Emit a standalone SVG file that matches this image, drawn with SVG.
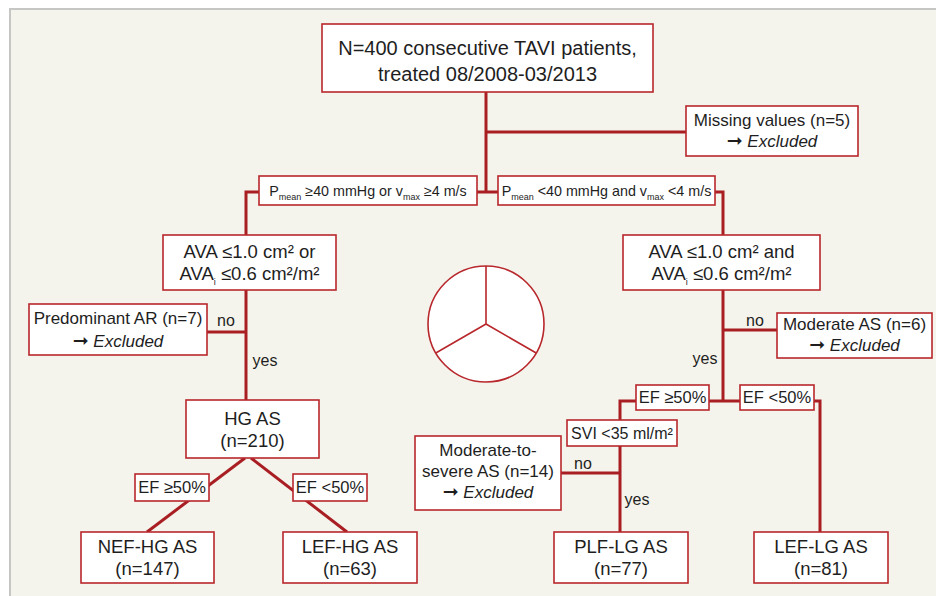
<svg xmlns="http://www.w3.org/2000/svg" width="936" height="596" viewBox="0 0 936 596">
<style>
.bx{fill:#ffffff;stroke:#b8272c;stroke-width:1.6}
.cn{fill:none;stroke:#a81e23;stroke-width:3}
text{font-family:"Liberation Sans",Arial,sans-serif;fill:#1e1e1e;text-anchor:middle}
.t20{font-size:20px}
.t19{font-size:18.5px}
.t17{font-size:17px}
.t16{font-size:16.5px}
.t15{font-size:16px}
.tl{font-size:14.3px}
.sub{font-size:9px}
.it{font-style:italic}
.ar{font-family:"DejaVu Sans",sans-serif;font-style:normal;font-size:19px}
</style>
<rect x="10" y="9" width="940" height="600" fill="#f5f4ec" stroke="#c6c6c4" stroke-width="2"/>

<g id="connectors">
<polyline class="cn" points="486,92 486,192"/>
<polyline class="cn" points="486,132 686,132"/>
<polyline class="cn" points="246,235 246,192 723,192 723,235"/>
<polyline class="cn" points="246,290 246,400"/>
<polyline class="cn" points="207,332 246,332"/>
<polyline class="cn" points="245,458 147,532"/>
<polyline class="cn" points="251,458 347,532"/>
<polyline class="cn" points="723,290 723,401"/>
<polyline class="cn" points="723,330 777,330"/>
<polyline class="cn" points="620,532 620,401 820,401 820,532"/>
<polyline class="cn" points="561,473 620,473"/>
</g>

<g id="circle">
<circle cx="486" cy="324" r="58" fill="#ffffff" stroke="#b8272c" stroke-width="1.6"/>
<path d="M486,324 V266 M486,324 L435.8,353 M486,324 L536.2,353" fill="none" stroke="#b8272c" stroke-width="1.6"/>
</g>

<g id="n-top">
<rect class="bx" x="322" y="24" width="331" height="68"/>
<text class="t20" x="487.5" y="55">N=400 consecutive TAVI patients,</text>
<text class="t20" x="487.5" y="81">treated 08/2008-03/2013</text>
</g>

<g id="n-missing">
<rect class="bx" x="686" y="106" width="172" height="50"/>
<text class="t17" x="772" y="126">Missing values (n=5)</text>
<text class="t17" x="772" y="147"><tspan class="ar">➞</tspan> <tspan class="it">Excluded</tspan></text>
</g>

<g id="l-high">
<rect class="bx" x="259" y="176" width="218" height="29"/>
<text class="tl" x="368" y="196">P<tspan class="sub" dy="4">mean</tspan><tspan dy="-4"> ≥40 mmHg or v</tspan><tspan class="sub" dy="4">max</tspan><tspan dy="-4"> ≥4 m/s</tspan></text>
</g>

<g id="l-low">
<rect class="bx" x="498" y="176" width="217" height="29"/>
<text class="tl" x="606.5" y="196">P<tspan class="sub" dy="4">mean</tspan><tspan dy="-4"> &lt;40 mmHg and v</tspan><tspan class="sub" dy="4">max</tspan><tspan dy="-4"> &lt;4 m/s</tspan></text>
</g>

<g id="n-ava-left">
<rect class="bx" x="163" y="235" width="173" height="55"/>
<text class="t19" x="249.5" y="258">AVA ≤1.0 cm² or</text>
<text class="t19" x="249.5" y="280">AVA<tspan class="sub" dy="5">i</tspan><tspan dy="-5"> ≤0.6 cm²/m²</tspan></text>
</g>

<g id="n-ava-right">
<rect class="bx" x="623" y="235" width="197" height="55"/>
<text class="t19" x="721.5" y="258">AVA ≤1.0 cm² and</text>
<text class="t19" x="721.5" y="280">AVA<tspan class="sub" dy="5">i</tspan><tspan dy="-5"> ≤0.6 cm²/m²</tspan></text>
</g>

<g id="n-predominant">
<rect class="bx" x="29" y="304" width="178" height="51"/>
<text class="t17" x="118" y="324">Predominant AR (n=7)</text>
<text class="t17" x="118" y="347"><tspan class="ar">➞</tspan> <tspan class="it">Excluded</tspan></text>
</g>
<text class="t15" x="226" y="326">no</text>
<text class="t15" x="265" y="366">yes</text>

<g id="n-moderate">
<rect class="bx" x="777" y="313" width="155" height="45"/>
<text class="t17" x="854.5" y="330">Moderate AS (n=6)</text>
<text class="t17" x="854.5" y="351"><tspan class="ar">➞</tspan> <tspan class="it">Excluded</tspan></text>
</g>
<text class="t15" x="755" y="326">no</text>
<text class="t15" x="705" y="364">yes</text>

<g id="n-hgas">
<rect class="bx" x="186" y="400" width="133" height="58"/>
<text class="t19" x="252.5" y="425">HG AS</text>
<text class="t19" x="252.5" y="447">(n=210)</text>
</g>

<g id="l-ef-hg-ge">
<rect class="bx" x="135" y="474" width="74" height="27"/>
<text class="t16" x="172" y="493">EF ≥50%</text>
</g>
<g id="l-ef-hg-lt">
<rect class="bx" x="293" y="474" width="74" height="27"/>
<text class="t16" x="330" y="493">EF &lt;50%</text>
</g>

<g id="l-ef-ge">
<rect class="bx" x="636" y="385" width="73" height="25"/>
<text class="t16" x="672.5" y="403">EF ≥50%</text>
</g>
<g id="l-ef-lt">
<rect class="bx" x="740" y="385" width="74" height="25"/>
<text class="t16" x="777" y="403">EF &lt;50%</text>
</g>

<g id="l-svi">
<rect class="bx" x="567" y="420" width="110" height="26"/>
<text class="t15" x="622" y="439">SVI &lt;35 ml/m²</text>
</g>

<g id="n-modsev">
<rect class="bx" x="415" y="436" width="146" height="74"/>
<text class="t17" x="488" y="456">Moderate-to-</text>
<text class="t17" x="488" y="477">severe AS (n=14)</text>
<text class="t17" x="488" y="498"><tspan class="ar">➞</tspan> <tspan class="it">Excluded</tspan></text>
</g>
<text class="t15" x="583" y="469">no</text>
<text class="t15" x="637" y="505">yes</text>

<g id="n-nef-hg">
<rect class="bx" x="81" y="532" width="133" height="51"/>
<text class="t19" x="147.5" y="553">NEF-HG AS</text>
<text class="t19" x="147.5" y="575">(n=147)</text>
</g>
<g id="n-lef-hg">
<rect class="bx" x="283" y="532" width="134" height="51"/>
<text class="t19" x="350" y="553">LEF-HG AS</text>
<text class="t19" x="350" y="575">(n=63)</text>
</g>
<g id="n-plf-lg">
<rect class="bx" x="554" y="532" width="134" height="51"/>
<text class="t19" x="621" y="553">PLF-LG AS</text>
<text class="t19" x="621" y="575">(n=77)</text>
</g>
<g id="n-lef-lg">
<rect class="bx" x="754" y="532" width="134" height="51"/>
<text class="t19" x="821" y="553">LEF-LG AS</text>
<text class="t19" x="821" y="575">(n=81)</text>
</g>
</svg>
